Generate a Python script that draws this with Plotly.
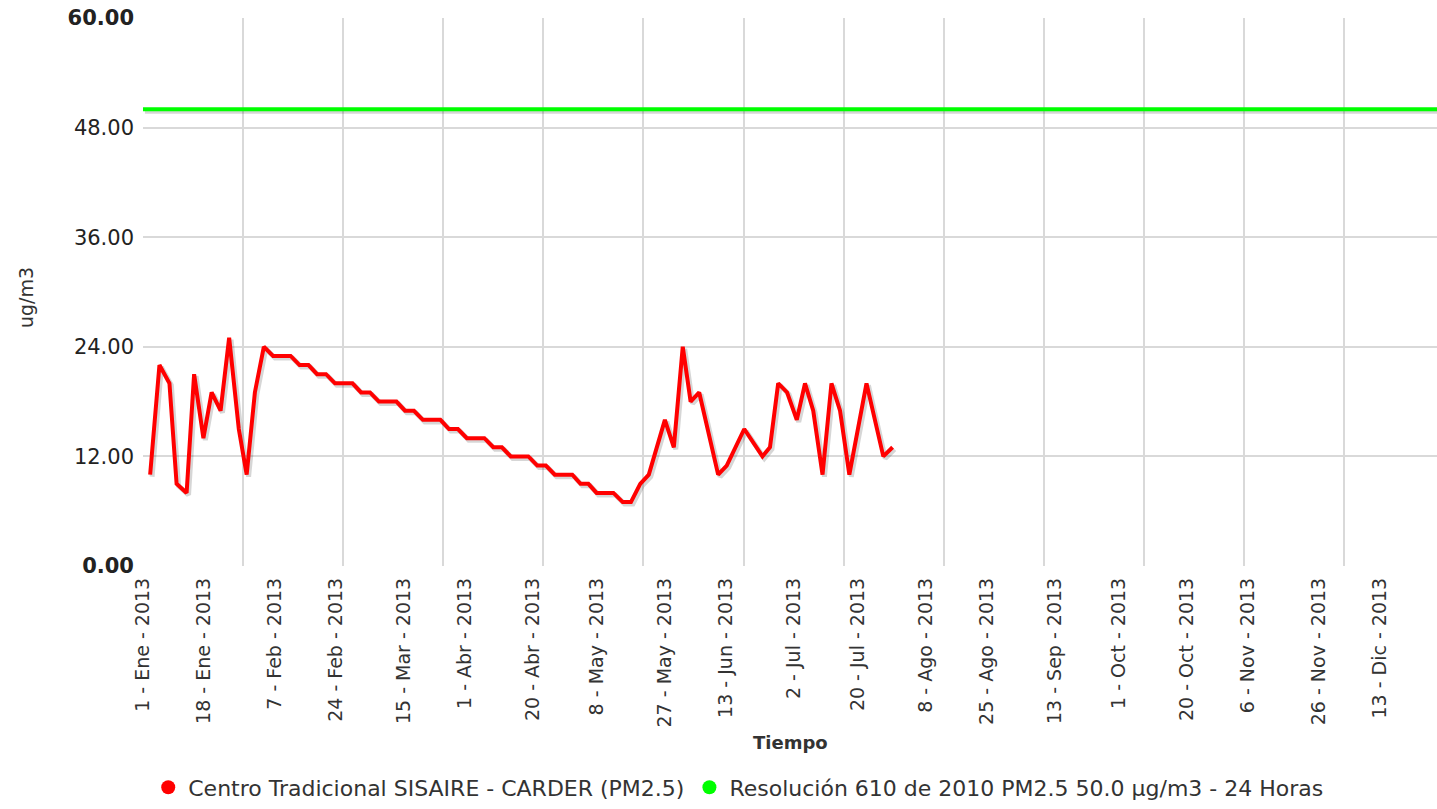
import pandas as pd
import plotly.graph_objects as go

# ---------------- data ----------------
start_date = "2013-01-01"
end_date = "2013-12-29"

# sample position in days after 1 Jan 2013, and PM2.5 concentration (ug/m3)
day_offsets = [2.0, 4.6, 7.4, 9.4, 12.2, 14.3, 16.9, 19.2, 21.7, 24.1, 26.8, 29.0, 31.3, 33.8,
               36.4, 38.9, 41.3, 43.8, 46.3, 48.7, 51.2, 53.7, 56.1, 58.6, 61.0, 63.5, 66.0,
               68.4, 70.9, 73.3, 75.8, 78.3, 80.7, 83.2, 85.6, 88.1, 90.6, 93.0, 95.5, 98.0,
               100.4, 102.9, 105.3, 107.8, 110.3, 112.7, 115.2, 117.6, 120.1, 122.4, 124.6,
               126.9, 129.3, 131.6, 134.2, 136.5, 139.1, 141.5, 146.0, 148.5, 151.0, 153.2,
               155.6, 160.9, 163.3, 168.2, 173.3, 175.4, 177.7, 180.2, 182.9, 185.2, 187.5,
               190.1, 192.6, 195.0, 197.6, 202.4, 207.1, 209.7]
pm25_values = [10, 22, 20, 9, 8, 21, 14, 19, 17, 25, 15, 10, 19, 24,
               23, 23, 23, 22, 22, 21, 21, 20, 20, 20, 19, 19, 18,
               18, 18, 17, 17, 16, 16, 16, 15, 15, 14, 14, 14, 13,
               13, 12, 12, 12, 11, 11, 10, 10, 10, 9, 9,
               8, 8, 8, 7, 7, 9, 10, 16, 13, 24, 18,
               19, 10, 11, 15, 12, 13, 20, 19, 16, 20, 17,
               10, 20, 17, 10, 20, 12, 13]

limit_dates = [start_date, end_date]
limit_values = [50.0, 50.0]

series_names = ["Centro Tradicional SISAIRE - CARDER (PM2.5)",
                "Resolución 610 de 2010 PM2.5 50.0 µg/m3 - 24 Horas"]

tick_dates = ["2013-01-01", "2013-01-18", "2013-02-07", "2013-02-24", "2013-03-15",
              "2013-04-01", "2013-04-20", "2013-05-08", "2013-05-27", "2013-06-13",
              "2013-07-02", "2013-07-20", "2013-08-08", "2013-08-25", "2013-09-13",
              "2013-10-01", "2013-10-20", "2013-11-06", "2013-11-26", "2013-12-13"]
tick_labels = ["1 - Ene - 2013", "18 - Ene - 2013", "7 - Feb - 2013", "24 - Feb - 2013",
               "15 - Mar - 2013", "1 - Abr - 2013", "20 - Abr - 2013", "8 - May - 2013",
               "27 - May - 2013", "13 - Jun - 2013", "2 - Jul - 2013", "20 - Jul - 2013",
               "8 - Ago - 2013", "25 - Ago - 2013", "13 - Sep - 2013", "1 - Oct - 2013",
               "20 - Oct - 2013", "6 - Nov - 2013", "26 - Nov - 2013", "13 - Dic - 2013"]
grid_dates = ["2013-01-29", "2013-02-26", "2013-03-26", "2013-04-23", "2013-05-21",
              "2013-06-18", "2013-07-16", "2013-08-13", "2013-09-10", "2013-10-08",
              "2013-11-05", "2013-12-03"]
y_ticks = [0, 12, 24, 36, 48, 60]
y_labels = ["<b>0.00</b>", "12.00", "24.00", "36.00", "48.00", "<b>60.00</b>"]

# ---------------- figure ----------------
dates = pd.Timestamp(start_date) + pd.to_timedelta(day_offsets, unit="D")

FONT = "DejaVu Sans"
RED = "#ff0000"
GREEN = "#00ff00"
SHADOW = "rgba(0,0,0,0.16)"
GRID = "#d9d9d9"

fig = go.Figure()

# shadows (slightly offset axes)
fig.add_trace(go.Scatter(x=limit_dates, y=limit_values, mode="lines", xaxis="x2", yaxis="y2",
                         line=dict(color=SHADOW, width=5), showlegend=False, hoverinfo="skip"))
fig.add_trace(go.Scatter(x=dates, y=pm25_values, mode="lines", xaxis="x2", yaxis="y2",
                         line=dict(color=SHADOW, width=5), showlegend=False, hoverinfo="skip"))

# main lines
fig.add_trace(go.Scatter(x=limit_dates, y=limit_values, mode="lines", xaxis="x3", yaxis="y3",
                         line=dict(color=GREEN, width=4), showlegend=False))
fig.add_trace(go.Scatter(x=dates, y=pm25_values, mode="lines", xaxis="x3", yaxis="y3",
                         line=dict(color=RED, width=4), showlegend=False))

# legend entries (round markers)
fig.add_trace(go.Scatter(x=[None], y=[None], mode="markers", name=series_names[0],
                         marker=dict(color=RED, size=14, symbol="circle")))
fig.add_trace(go.Scatter(x=[None], y=[None], mode="markers", name=series_names[1],
                         marker=dict(color=GREEN, size=14, symbol="circle")))

shift = pd.Timedelta(hours=13)
x_range = [pd.Timestamp(start_date), pd.Timestamp(end_date)]
x_range_shadow = [x_range[0] - shift, x_range[1] - shift]

fig.update_layout(
    width=1437, height=809,
    margin=dict(l=143, r=0, t=18, b=232),
    paper_bgcolor="white", plot_bgcolor="white",
    font=dict(family=FONT, color="#333333"),
    xaxis=dict(type="date", range=x_range, tickmode="array", tickvals=tick_dates,
               ticktext=tick_labels, tickangle=-90, showgrid=False, zeroline=False,
               showline=False, ticks="", ticklabelstandoff=7, automargin=False,
               tickfont=dict(family=FONT, size=19, color="#333333"),
               minor=dict(tickmode="array", tickvals=grid_dates, showgrid=True,
                          gridcolor=GRID, gridwidth=2, ticks="")),
    yaxis=dict(range=[0, 60], tickmode="array", tickvals=y_ticks, ticktext=y_labels,
               showgrid=True, gridcolor=GRID, gridwidth=2, zeroline=False, showline=False,
               ticks="", ticklabelstandoff=8, automargin=False, ticklabeloverflow="allow",
               tickfont=dict(family=FONT, size=21, color="#222222")),
    xaxis2=dict(type="date", range=x_range_shadow, overlaying="x", visible=False),
    yaxis2=dict(range=[0.22, 60.22], overlaying="y", visible=False),
    xaxis3=dict(type="date", range=x_range, overlaying="x", visible=False),
    yaxis3=dict(range=[0, 60], overlaying="y", visible=False),
    legend=dict(orientation="h", x=0.46, xanchor="center", y=-0.404, yanchor="middle",
                font=dict(family=FONT, size=22, color="#333333"), itemwidth=30,
                bgcolor="rgba(0,0,0,0)"),
    annotations=[
        dict(text="ug/m3", textangle=-90, xref="paper", yref="paper", x=-0.09, y=0.49,
             xanchor="center", yanchor="middle", showarrow=False,
             font=dict(family=FONT, size=19, color="#333333")),
        dict(text="<b>Tiempo</b>", xref="paper", yref="paper", x=0.5, y=-0.322,
             xanchor="center", yanchor="middle", showarrow=False,
             font=dict(family=FONT, size=18, color="#333333")),
    ],
    showlegend=True,
)

# remove the browser's default page margin so the figure fills the window exactly
fig.write_html("out.html",
               config={"displayModeBar": False},
               post_script="document.body.style.margin='0';"
                           "document.documentElement.style.overflow='hidden';")
